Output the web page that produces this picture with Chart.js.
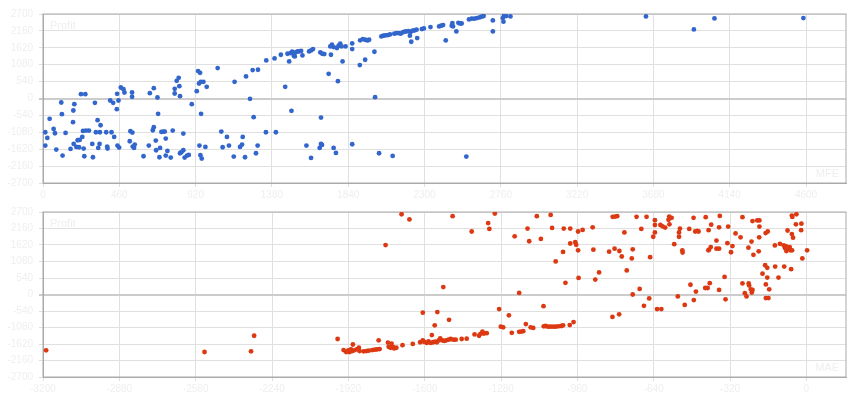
<!DOCTYPE html>
<html lang="en">
<head>
<meta charset="UTF-8">
<title>MFE / MAE</title>
<script src="https://cdn.jsdelivr.net/npm/chart.js@4.4.0/dist/chart.umd.min.js"></script>
<style>
  body { margin: 0; background: #fff; }
  canvas { position: absolute; left: 0; }
</style>
</head>
<body>
<canvas id="mfe" width="860" height="200" style="top:0"></canvas>
<canvas id="mae" width="860" height="200" style="top:200px"></canvas>
<script>
// MFE vs profit (top), MAE vs profit (bottom)
const mfeX = [14,26,14,40,64,72,80,110,114,118,136,166,183,181,189,185,201,209,217,221,229,237,241,245,249,255,259,277,297,301,
  313,319,329,333,341,347,343,381,387,389,405,413,423,429,445,447,455,449,459,469,485,491,523,527,539,537,537,541,553,549,
  606,638,644,662,668,668,680,682,690,694,702,706,714,726,734,740,740,750,770,782,794,794,806,818,822,826,826,834,846,846,
  854,868,879,897,927,935,947,941,951,967,953,943,949,957,979,987,1053,1075,1083,1109,1121,1150,1155,1188,1200,1204,1218,1224,1248,1264,
  1270,1284,1294,1296,1344,1346,1396,1404,1434,1460,1474,1484,1492,1498,1502,1512,1522,1534,1544,1556,1564,1518,1588,1604,1616,1628,1616,1672,1684,1696,
  1668,1676,1682,1676,1722,1732,1742,1752,1736,1772,1782,1792,1800,1752,1766,1778,1806,1824,1864,1864,1864,1910,1912,1928,1942,1956,1966,1942,1998,2002,
  2026,2040,2052,2064,2080,2092,2108,2118,2132,2144,2156,2168,2180,2192,2204,2216,2228,2240,2252,2212,2220,2256,2284,2296,2336,2388,2400,2412,2428,2464,
  2468,2472,2492,2504,2516,2524,2552,2568,2584,2600,2616,2632,2644,2656,2712,2712,2772,2776,2780,2792,2818,3635,3924,4048,4584];
const mfeProfit = [-1078,-1259,-1504,-651,-971,-1110,-1632,-128,-501,-1824,-1099,-1611,-384,-758,-181,-1451,-1547,-1334,-1558,-1323,139,-1227,-1035,-1600,-1846,139,-1024,-1024,-1451,-1878,
  -139,-1078,-694,-1579,-1451,-854,-1078,-1078,-1536,-1600,-64,-1078,-139,-1227,-341,149,-64,-1504,-1568,352,299,192,-1366,-1046,-1088,192,53,-1536,-1472,-1579,
  -1846,-1504,171,-1014,331,-918,-1344,-1654,32,-491,-1878,-1579,-1067,-1056,-1056,-1824,-1280,-1675,-1888,-1024,309,160,565,661,395,75,-1750,-1718,-1120,-1654,
  -1888,-1824,-1803,-181,235,875,821,480,533,533,-491,-1504,-1814,-1920,-1547,373,971,-1056,-1558,-1227,-1504,-1856,533,-1547,-1472,-1227,-1878,704,-11,907,
  -598,-1750,-1504,918,-1078,1216,1280,-1078,1398,373,1430,1184,1451,-395,1494,1366,1472,1504,1504,1520,1376,1344,-1504,1504,1536,1579,-1899,1472,1430,1419,
  -1579,-1451,-1483,-608,790,1664,1718,1643,1398,1611,1686,1750,1664,-1579,-1739,555,1184,1664,1579,1760,-1462,1067,1859,1899,1878,1856,1878,1238,1494,43,
  -1750,1984,2006,2016,2027,2048,-1835,2070,2091,2091,2070,2112,2134,2144,2155,2123,2166,2176,2198,2006,1814,1931,2219,2240,2283,2304,2326,2347,1856,2326,
  2411,2304,2144,2418,2390,2400,-1856,2528,2550,2550,2571,2592,2614,2635,2496,2144,2571,2454,2657,2635,2624,2624,2208,2560,2571];

const maeX = [-3187,-2523,-2328,-2315,-1965,-1940,-1929,-1920,-1915,-1909,-1901,-1904,-1896,-1885,-1876,-1873,-1856,-1845,-1835,-1820,
  -1809,-1800,-1789,-1793,-1764,-1754,-1751,-1743,-1739,-1733,-1728,-1719,-1697,-1693,-1664,-1650,-1619,-1608,-1602,-1591,
  -1584,-1574,-1565,-1556,-1549,-1541,-1535,-1527,-1518,-1510,-1500,-1491,-1480,-1470,-1445,-1424,-1608,-1570,-1558,-1547,
  -1522,-1498,-1483,-1403,-1391,-1372,-1366,-1358,-1352,-1340,-1334,-1329,-1306,-1288,-1281,-1271,-1247,-1235,-1223,-1204,
  -1204,-1195,-1187,-1176,-1169,-1162,-1156,-1145,-1130,-1113,-1102,-1101,-1093,-1083,-1073,-1062,-1051,-1040,-1027,-1020,
  -1072,-1066,-1051,-1020,-1017,-1010,-992,-990,-990,-976,-969,-965,-957,-957,-955,-938,-896,-893,-885,-869,
  -812,-802,-793,-827,-804,-784,-774,-763,-753,-813,-785,-728,-732,-728,-712,-699,-692,-681,-670,-659,
  -655,-642,-635,-635,-635,-626,-608,-612,-603,-592,-578,-574,-575,-565,-534,-534,-554,-530,-539,-520,
  -519,-510,-491,-486,-472,-473,-466,-457,-452,-463,-422,-424,-414,-410,-408,-411,-401,-405,-399,-377,
  -377,-366,-366,-366,-363,-343,-339,-331,-328,-316,-310,-297,-276,-268,-258,-251,-268,-243,-242,-240,
  -233,-229,-226,-230,-226,-222,-206,-197,-200,-197,-198,-184,-173,-164,-170,-164,-170,-159,-156,-171,
  -162,-132,-131,-117,-111,-95,-90,-84,-84,-76,-70,-67,-60,-93,-79,-61,-56,-64,-61,-59,
  -42,-44,-21,-22,-17,3];
const maeProfit = [-1828,-1882,-1860,-1350,-1456,-1818,-1882,-1828,-1882,-1797,-1637,-1850,-1828,-1797,-1743,-1850,-1860,-1850,-1839,-1818,
  -1807,-1797,-1786,-1499,1616,-1573,-1712,-1743,-1605,-1712,-1765,-1743,2626,-1658,2456,-1616,-1562,-1499,-1552,-1584,
  -1531,-1584,-1562,-1541,-1562,-1499,-1435,-1499,-1520,-1499,-1478,-1456,-1478,-1478,-1456,-1446,-595,-1329,-1010,-574,
  244,-829,2562,2062,-1308,-1350,-1286,-1212,-1276,-1265,2339,2147,2647,-478,-1052,-1074,-680,-1254,1903,53,
  -1222,-1212,-1201,-967,2158,1743,-1074,-1095,2562,1818,-383,-1042,-1031,-1052,-1052,-1052,-1052,-1042,-1031,-1010,
  2604,2179,1084,1393,2158,383,-999,2158,1669,-904,1711,1626,2062,1446,542,2115,2200,1467,489,723,
  2541,2551,2562,1403,1499,1424,1244,2030,787,-733,-648,1478,1180,0,2541,181,2147,-372,2541,-128,
  1222,1890,2030,2275,2434,-478,-478,2275,2232,2190,2445,2296,2551,2509,1890,2030,1648,2158,-64,1446,
  1371,-340,2147,319,-181,2509,2062,2083,2062,96,2530,213,213,2105,1467,1446,1552,372,2285,1765,
  1499,1499,149,2200,2572,574,-159,1680,2222,1382,1584,1998,1871,361,43,-64,2530,1531,361,298,
  170,64,149,1733,2403,1297,2424,2424,1414,2222,1871,680,957,872,330,553,-117,-117,170,2009,
  2062,1605,914,553,1658,1605,1520,1424,1573,1499,1552,1446,1446,914,2094,1977,1860,829,2583,2540,
  2625,2296,2317,2105,1180,1446];

const profitMin = -2700, profitMax = 2700, profitStep = 540;

const faint = '#efefef';
const font = { family: '"Liberation Sans", Arial, sans-serif', size: 10 };

const frame = {
  id: 'frame',
  beforeDatasetsDraw(chart, args, opts) {
    const { ctx, chartArea: a } = chart;
    ctx.save();
    ctx.strokeStyle = '#aaaaaa';
    ctx.lineWidth = 1;
    ctx.strokeRect(a.left, a.top, a.width, a.height);
    ctx.font = '11px "Liberation Sans", Arial, sans-serif';
    ctx.fillStyle = faint;
    ctx.textAlign = 'left';
    ctx.textBaseline = 'top';
    ctx.fillText('Profit', a.left + 7, a.top + 6);
    ctx.textAlign = 'right';
    ctx.textBaseline = 'bottom';
    ctx.fillText(opts.xTitle, a.right - 7, a.bottom - 4);
    ctx.restore();
  }
};

function makeChart(id, xs, ys, color, xMin, xMax, xStep, xTitle, padTop, xHeight) {
  return new Chart(document.getElementById(id), {
    type: 'scatter',
    data: {
      datasets: [{
        data: xs.map((x, i) => ({ x: x, y: ys[i] })),
        backgroundColor: color,
        borderWidth: 0,
        pointRadius: 2.4,
        pointHoverRadius: 3
      }]
    },
    plugins: [frame],
    options: {
      responsive: false,
      animation: false,
      layout: { padding: { top: padTop, right: 14, left: 0, bottom: 0 } },
      plugins: { legend: { display: false }, tooltip: { enabled: false }, frame: { xTitle: xTitle } },
      scales: {
        x: {
          type: 'linear', min: xMin, max: xMax,
          afterBuildTicks: s => { s.ticks = s.ticks.filter(t => t.value % xStep === 0); },
          afterFit: s => { s.height = xHeight; },
          ticks: { stepSize: xStep, color: faint, font: font, padding: 2, maxRotation: 0,
                   callback: v => String(v) },
          grid: { color: '#e0e0e0', tickLength: 4 },
          border: { color: '#aaaaaa' }
        },
        y: {
          min: profitMin, max: profitMax,
          afterFit: s => { s.width = 43; },
          ticks: { stepSize: profitStep, color: faint, font: font, padding: 6,
                   callback: v => String(v) },
          grid: {
            color: c => c.tick && c.tick.value === 0 ? '#cccccc' : '#e0e0e0',
            lineWidth: c => c.tick && c.tick.value === 0 ? 2 : 1,
            tickLength: 4
          },
          border: { color: '#aaaaaa' }
        }
      }
    }
  });
}

makeChart('mfe', mfeX, mfeProfit, '#3366cc', 0, 4841, 460, 'MFE', 14, 17);
makeChart('mae', maeX, maeProfit, '#dc3912', -3200, 166, 320, 'MAE', 7, 23);
</script>
</body>
</html>
